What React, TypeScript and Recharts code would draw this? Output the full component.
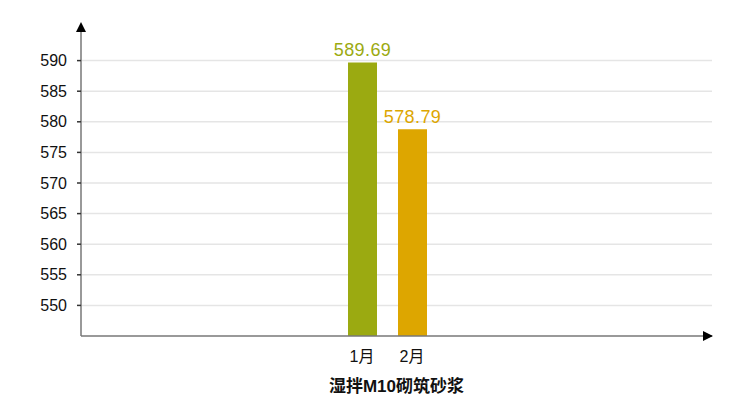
import React from 'react';
import { ComposedChart, Bar, XAxis, YAxis, CartesianGrid, Cell, LabelList } from 'recharts';

const categories = ['1月', '2月'];
const values = [589.69, 578.79];
const colors = ['#9BAA11', '#DDA600'];
const yTicks = [550, 555, 560, 565, 570, 575, 580, 585, 590];
const title = '湿拌M10砌筑砂浆';

const data = categories.map((c, i) => ({ name: c, value: values[i], color: colors[i] }));

const W = 750;
const H = 418;
const XH = 30;
const MARGIN = { top: 30, right: 38, bottom: 82 - XH, left: 0 };
const YW = 81;
const FONT = '"Liberation Sans", Arial, "Noto Sans CJK SC", sans-serif';

const ValueLabel = (props: any) => {
  const { x, y, width, value, index } = props;
  return (
    <text x={x + width / 2} y={y - 6} textAnchor="middle" fill={colors[index]} fontSize={18} fontFamily={FONT} letterSpacing={0.4}>
      {value}
    </text>
  );
};

export default function App() {
  const plotLeft = MARGIN.left + YW;
  const plotRight = W - MARGIN.right;
  const plotTop = MARGIN.top;
  const plotBottom = H - MARGIN.bottom - XH;
  return (
    <div style={{ position: 'fixed', left: 0, top: 0, width: W, height: H, background: '#fff' }}>
      <ComposedChart width={W} height={H} data={data} margin={MARGIN}>
        <CartesianGrid vertical={false} horizontalValues={yTicks} stroke="#e5e5e5" strokeWidth={1.5} />
        <XAxis
          dataKey="name"
          type="category"
          height={XH}
          tickLine={false}
          axisLine={{ stroke: '#777', strokeWidth: 1.5 }}
          padding={{ left: 256, right: 275 }}
          tick={{ fill: '#111', fontSize: 16, fontFamily: FONT }}
          tickMargin={9}
          label={{ value: title, position: 'bottom', offset: 14, fill: '#111', fontSize: 17, fontWeight: 'bold', fontFamily: FONT }}
        />
        <YAxis
          width={YW}
          domain={[545, 595]}
          ticks={yTicks}
          allowDataOverflow
          tickLine={{ stroke: '#333', strokeWidth: 1.5 }}
          tickSize={4}
          axisLine={{ stroke: '#777', strokeWidth: 1.5 }}
          tick={{ fill: '#111', fontSize: 16, fontFamily: FONT }}
          tickMargin={10}
        />
        <Bar dataKey="value" barSize={29} isAnimationActive={false}>
          {data.map((d, i) => (
            <Cell key={i} fill={d.color} />
          ))}
          <LabelList dataKey="value" content={<ValueLabel />} />
        </Bar>
      </ComposedChart>
      <svg width={W} height={H} style={{ position: 'absolute', left: 0, top: 0, pointerEvents: 'none' }}>
        <polygon points={`${plotLeft},${plotTop - 8} ${plotLeft - 5},${plotTop + 2} ${plotLeft + 5},${plotTop + 2}`} fill="#000" />
        <polygon points={`${plotRight + 1},${plotBottom} ${plotRight - 9},${plotBottom - 5} ${plotRight - 9},${plotBottom + 5}`} fill="#000" />
      </svg>
    </div>
  );
}
